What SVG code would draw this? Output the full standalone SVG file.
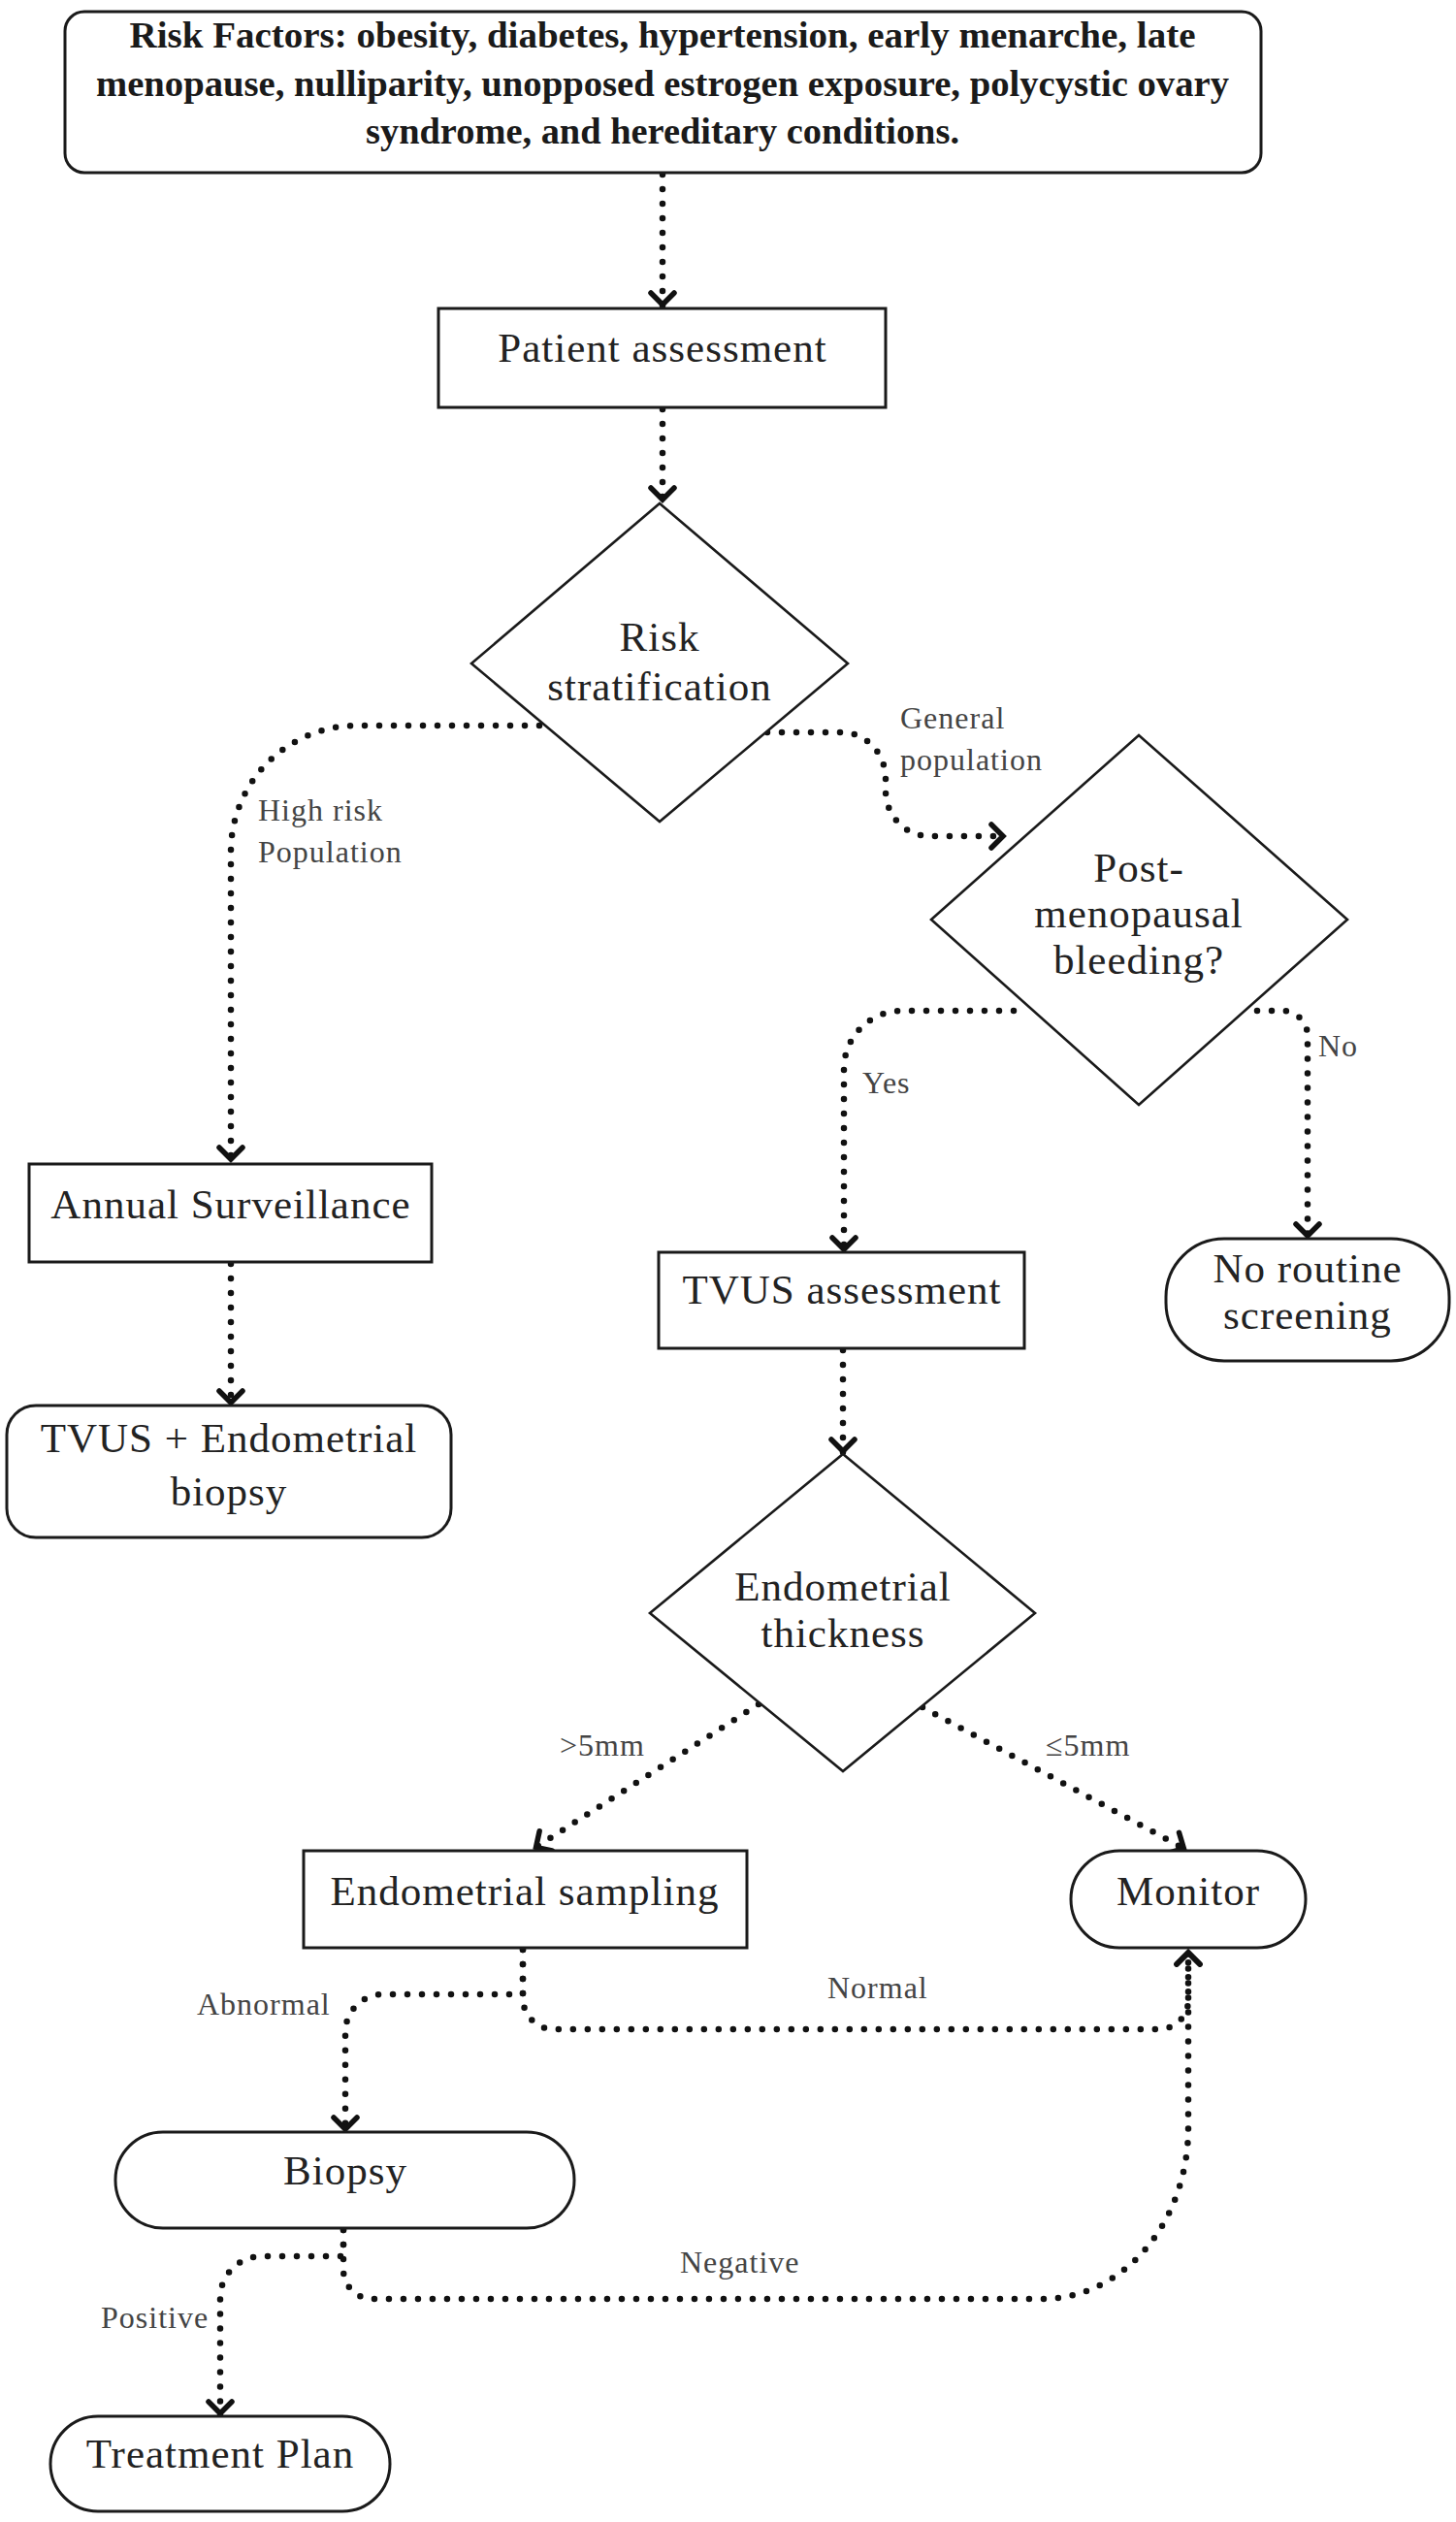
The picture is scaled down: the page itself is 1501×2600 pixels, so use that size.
<svg xmlns="http://www.w3.org/2000/svg" width="1501" height="2600" viewBox="0 0 1501 2600">
<style>
.box{fill:#fff;stroke:#1a1a1a;stroke-width:3}
.dia{fill:#fff;stroke:#1a1a1a;stroke-width:2.6}
.t{font-family:"Liberation Serif","Times New Roman",serif;font-size:43px;letter-spacing:1px;fill:#222;text-anchor:middle}
.tb{font-family:"Liberation Serif","Times New Roman",serif;font-size:37px;font-weight:bold;fill:#1a1a1a;text-anchor:middle}
.lbl{font-family:"Liberation Serif","Times New Roman",serif;font-size:32px;letter-spacing:1px;fill:#444}
.c{fill:none;stroke:#111;stroke-width:6.5;stroke-linecap:round;stroke-dasharray:0 15;marker-end:url(#arr)}
</style>
<defs>
<marker id="arr" markerUnits="userSpaceOnUse" viewBox="-20 -18 24 36" markerWidth="24" markerHeight="36" refX="0" refY="0" orient="auto">
<path d="M-15,-12 L-3,0 L-15,12" fill="none" stroke="#111" stroke-width="5.5" stroke-linejoin="miter" stroke-linecap="round"/>
</marker>
</defs>
<rect width="1501" height="2600" fill="#fff"/>
<g id="connectors">
<path class="c" d="M683,180 V317"/>
<path class="c" d="M683,422 V518"/>
<path class="c" d="M556,748 H368 A130,130 0 0 0 238,878 V1198"/>
<path class="c" d="M791,755 H868 A45,48 0 0 1 913,803 V815 A45,47 0 0 0 958,862 H1037"/>
<path class="c" d="M1045,1042 H930 A60,60 0 0 0 870,1102 V1291"/>
<path class="c" d="M1296,1042 H1322 A26,26 0 0 1 1348,1068 V1277"/>
<path class="c" d="M238,1303 V1449"/>
<path class="c" d="M869,1392 V1499"/>
<path class="c" d="M782,1757 L550,1906"/>
<path class="c" d="M951,1760 L1223,1907"/>
<path class="c" d="M539,2010 V2056 H395 A39,39 0 0 0 356,2095 V2198"/>
<path class="c" d="M539,2010 V2060 A32,32 0 0 0 571,2092 H1195 A30,30 0 0 0 1225,2062 V2010"/>
<path class="c" d="M354,2299 V2326 H270 A43,43 0 0 0 227,2369 V2491"/>
<path class="c" d="M354,2299 V2340 A30,30 0 0 0 384,2370 H1075 A150,176 0 0 0 1225,2194 V2010"/>
</g>
<g id="labels">
<text class="lbl" x="266" y="846">High risk</text>
<text class="lbl" x="266" y="889">Population</text>
<text class="lbl" x="928" y="751">General</text>
<text class="lbl" x="928" y="794">population</text>
<text class="lbl" x="889" y="1127">Yes</text>
<text class="lbl" x="1359" y="1089">No</text>
<text class="lbl" x="577" y="1810">&gt;5mm</text>
<text class="lbl" x="1078" y="1810">≤5mm</text>
<text class="lbl" x="203" y="2077">Abnormal</text>
<text class="lbl" x="853" y="2060">Normal</text>
<text class="lbl" x="104" y="2400">Positive</text>
<text class="lbl" x="701" y="2343">Negative</text>
</g>
<g id="risk-factors">
<rect class="box" x="67" y="12" width="1233" height="166" rx="20"/>
<text class="tb" x="683" y="49" textLength="1099" lengthAdjust="spacingAndGlyphs">Risk Factors: obesity, diabetes, hypertension, early menarche, late</text>
<text class="tb" x="683" y="99" textLength="1168" lengthAdjust="spacingAndGlyphs">menopause, nulliparity, unopposed estrogen exposure, polycystic ovary</text>
<text class="tb" x="683" y="148" textLength="612" lengthAdjust="spacingAndGlyphs">syndrome, and hereditary conditions.</text>
</g>
<g id="patient-assessment">
<rect class="box" x="452" y="318" width="461" height="102"/>
<text class="t" x="683" y="373">Patient assessment</text>
</g>
<g id="risk-stratification">
<polygon class="dia" points="680,519 874,684 680,847 486,684"/>
<text class="t" x="680" y="671">Risk</text>
<text class="t" x="680" y="722">stratification</text>
</g>
<g id="post-menopausal">
<polygon class="dia" points="1174,758 1389,948 1174,1139 960,948"/>
<text class="t" x="1174" y="909">Post-</text>
<text class="t" x="1174" y="956">menopausal</text>
<text class="t" x="1174" y="1004">bleeding?</text>
</g>
<g id="annual-surveillance">
<rect class="box" x="30" y="1200" width="415" height="101"/>
<text class="t" x="238" y="1256">Annual Surveillance</text>
</g>
<g id="tvus-biopsy">
<rect class="box" x="7" y="1449" width="458" height="136" rx="30"/>
<text class="t" x="236" y="1497">TVUS + Endometrial</text>
<text class="t" x="236" y="1552">biopsy</text>
</g>
<g id="tvus-assessment">
<rect class="box" x="679" y="1291" width="377" height="99"/>
<text class="t" x="868" y="1344">TVUS assessment</text>
</g>
<g id="no-routine">
<rect class="box" x="1202" y="1277" width="292" height="126" rx="60"/>
<text class="t" x="1348" y="1322">No routine</text>
<text class="t" x="1348" y="1370">screening</text>
</g>
<g id="endometrial-thickness">
<polygon class="dia" points="869,1499 1067,1663 869,1826 670,1663"/>
<text class="t" x="869" y="1650">Endometrial</text>
<text class="t" x="869" y="1698">thickness</text>
</g>
<g id="endometrial-sampling">
<rect class="box" x="313" y="1908" width="457" height="100"/>
<text class="t" x="541" y="1964">Endometrial sampling</text>
</g>
<g id="monitor">
<rect class="box" x="1104" y="1908" width="242" height="100" rx="50"/>
<text class="t" x="1225" y="1964">Monitor</text>
</g>
<g id="biopsy">
<rect class="box" x="119" y="2198" width="473" height="99" rx="49"/>
<text class="t" x="356" y="2252">Biopsy</text>
</g>
<g id="treatment-plan">
<rect class="box" x="52" y="2491" width="350" height="98" rx="49"/>
<text class="t" x="227" y="2544">Treatment Plan</text>
</g>
</svg>
